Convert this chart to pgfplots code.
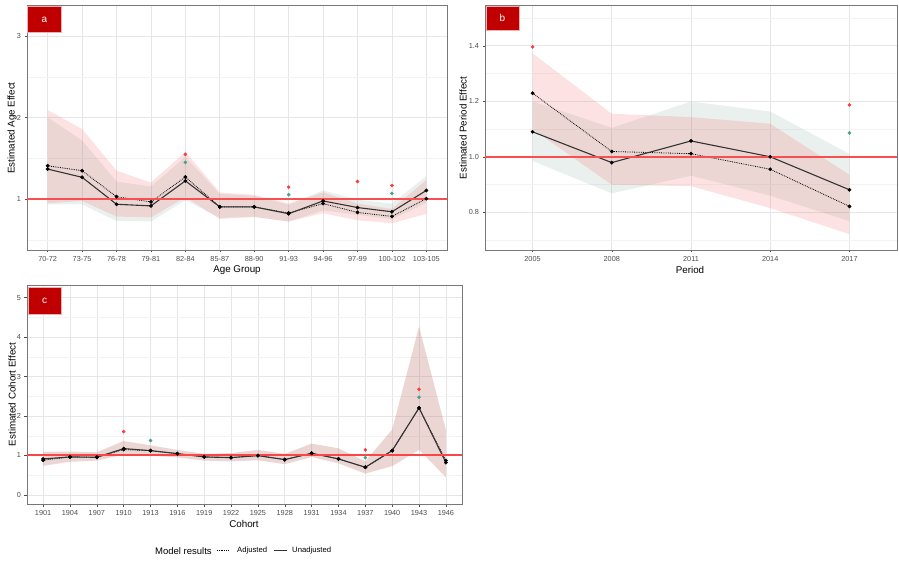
\documentclass[border=0pt]{standalone}
\usepackage{fontspec}
\setmainfont{Liberation Sans}
\usepackage{pgfplots}
\pgfplotsset{compat=1.18}
\usepackage{pgfplotstable}
\usepgfplotslibrary{fillbetween}

\definecolor{ribA}{RGB}{240,110,110}
\definecolor{ribU}{RGB}{108,155,142}
\definecolor{refred}{RGB}{248,80,80}
\definecolor{sigred}{RGB}{255,60,60}
\definecolor{siggreen}{RGB}{70,165,135}
\definecolor{boxred}{RGB}{192,0,0}
\definecolor{gridmaj}{RGB}{230,230,230}
\definecolor{gridmin}{RGB}{243,243,243}
\definecolor{framec}{RGB}{120,120,120}
\definecolor{ticklab}{RGB}{77,77,77}

\pgfplotsset{
 panel/.style={
  scale only axis, anchor=south west,
  axis line style={framec, line width=0.9pt},
  tick pos=left, tick align=outside,
  major tick length=2.5pt, minor tick length=0pt,
  every tick/.style={ticklab, line width=0.5pt},
  grid=both,
  major grid style={gridmaj, line width=0.6pt},
  minor grid style={gridmin, line width=0.4pt},
  tick label style={font=\fontsize{7.3}{8}\selectfont, text=ticklab},
  /pgf/number format/assume math mode=true,
 },
 solidl/.style={line width=1.1pt, color=black!80, no marks, solid, forget plot},
 dotl/.style={line width=0.8pt, densely dotted, color=black, no marks, forget plot},
 pts/.style={only marks, mark=*, mark size=1.7pt, color=black, mark options={solid, fill=black, draw=black}, forget plot},
 sigR/.style={only marks, mark=*, mark size=1.6pt, color=sigred, mark options={fill=sigred, draw=sigred}, forget plot},
 sigG/.style={only marks, mark=*, mark size=1.6pt, color=siggreen, mark options={fill=siggreen, draw=siggreen}, forget plot},
 refl/.style={draw=refred, line width=1.5pt, no marks, solid, forget plot},
 hid/.style={draw=none, forget plot},
}

% Panel a: age groups (index 0..11)
\pgfplotstableread{
x adj alo ahi un ulo uhi
0 1.407 0.947 2.090 1.367 0.934 2.000
1 1.347 0.976 1.859 1.266 0.933 1.718
2 1.028 0.785 1.347 0.935 0.730 1.214
3 0.964 0.773 1.202 0.915 0.726 1.153
4 1.270 1.023 1.577 1.222 0.985 1.516
5 0.903 0.755 1.080 0.903 0.769 1.060
6 0.903 0.777 1.050 0.903 0.784 1.040
7 0.827 0.725 0.944 0.819 0.721 0.930
8 0.944 0.825 1.080 0.976 0.862 1.105
9 0.835 0.739 0.944 0.895 0.806 0.990
10 0.786 0.703 0.879 0.843 0.753 0.944
11 1.004 0.817 1.234 1.105 0.952 1.282
}\tabA

% Panel b: periods
\pgfplotstableread{
x adj alo ahi un ulo uhi
2005 1.229 1.100 1.373 1.090 0.985 1.200
2008 1.019 0.899 1.155 0.979 0.868 1.104
2011 1.011 0.894 1.143 1.057 0.932 1.199
2014 0.955 0.815 1.119 1.000 0.860 1.163
2017 0.821 0.721 0.935 0.881 0.768 1.010
}\tabB

% Panel c: cohorts (index 0..15)
\pgfplotstableread{
x adj alo ahi un ulo uhi
0 0.880 0.730 1.090 0.912 0.745 1.100
1 0.963 0.840 1.100 0.963 0.845 1.100
2 0.954 0.870 1.080 0.954 0.870 1.080
3 1.150 1.020 1.370 1.174 1.030 1.360
4 1.120 1.000 1.260 1.123 1.000 1.250
5 1.047 0.950 1.140 1.047 0.950 1.140
6 0.963 0.870 1.040 0.963 0.870 1.040
7 0.946 0.850 1.060 0.946 0.850 1.060
8 0.997 0.880 1.140 0.997 0.880 1.140
9 0.895 0.780 1.040 0.895 0.780 1.040
10 1.056 0.960 1.300 1.056 0.960 1.300
11 0.912 0.800 1.180 0.912 0.800 1.180
12 0.701 0.540 0.850 0.701 0.545 0.850
13 1.123 0.730 1.660 1.123 0.730 1.650
14 2.204 1.140 4.270 2.204 1.150 4.250
15 0.870 0.450 1.650 0.819 0.450 1.640
}\tabC

\begin{document}
\begin{tikzpicture}
% ---------------- Panel a
\begin{axis}[panel, at={(27pt,310pt)}, width=420pt, height=245pt,
  xmin=-0.6, xmax=11.6, ymin=0.374, ymax=3.38,
  xtick={0,...,11},
  xticklabels={70-72,73-75,76-78,79-81,82-84,85-87,88-90,91-93,94-96,97-99,100-102,103-105},
  ytick={1,2,3}, minor ytick={0.5,1.5,2.5}]
 \addplot[hid, name path=aH] table[x=x,y=ahi]{\tabA};
 \addplot[hid, name path=aL] table[x=x,y=alo]{\tabA};
 \addplot[hid, name path=uH] table[x=x,y=uhi]{\tabA};
 \addplot[hid, name path=uL] table[x=x,y=ulo]{\tabA};
 \addplot[fill=ribU, fill opacity=0.15, draw=none, forget plot] fill between[of=uH and uL];
 \addplot[fill=ribA, fill opacity=0.2, draw=none, forget plot] fill between[of=aH and aL];
 \addplot[dotl] table[x=x,y=adj]{\tabA};
 \addplot[solidl] table[x=x,y=un]{\tabA};
 \addplot[refl] coordinates {(-0.6,1) (11.6,1)};
 \addplot[pts] table[x=x,y=adj]{\tabA};
 \addplot[pts] table[x=x,y=un]{\tabA};
 \addplot[sigR] coordinates {(4,1.548) (7,1.145) (9,1.214) (10,1.165)};
 \addplot[sigG] coordinates {(4,1.448) (7,1.052) (10,1.069)};
\end{axis}
% ---------------- Panel b
\begin{axis}[panel, at={(485pt,310pt)}, width=412pt, height=245pt,
  xmin=2003.2, xmax=2018.8, ymin=0.664, ymax=1.547,
  xtick={2005,2008,2011,2014,2017},
  xticklabels={2005,2008,2011,2014,2017},
  ytick={0.8,1.0,1.2,1.4}, yticklabels={0.8,1.0,1.2,1.4},
  minor ytick={0.7,0.9,1.1,1.3,1.5}]
 \addplot[hid, name path=bH] table[x=x,y=ahi]{\tabB};
 \addplot[hid, name path=bL] table[x=x,y=alo]{\tabB};
 \addplot[hid, name path=bUH] table[x=x,y=uhi]{\tabB};
 \addplot[hid, name path=bUL] table[x=x,y=ulo]{\tabB};
 \addplot[fill=ribU, fill opacity=0.15, draw=none, forget plot] fill between[of=bUH and bUL];
 \addplot[fill=ribA, fill opacity=0.2, draw=none, forget plot] fill between[of=bH and bL];
 \addplot[dotl] table[x=x,y=adj]{\tabB};
 \addplot[solidl] table[x=x,y=un]{\tabB};
 \addplot[refl] coordinates {(2003.2,1) (2018.8,1)};
 \addplot[pts] table[x=x,y=adj]{\tabB};
 \addplot[pts] table[x=x,y=un]{\tabB};
 \addplot[sigR] coordinates {(2005,1.396) (2017,1.187)};
 \addplot[sigG] coordinates {(2017,1.086)};
\end{axis}
% ---------------- Panel c
\begin{axis}[panel, at={(27pt,56pt)}, width=435pt, height=219pt,
  xmin=-0.6, xmax=15.6, ymin=-0.23, ymax=5.32,
  xtick={0,...,15},
  xticklabels={1901,1904,1907,1910,1913,1916,1919,1922,1925,1928,1931,1934,1937,1940,1943,1946},
  ytick={0,1,2,3,4,5}, minor ytick={0.5,1.5,2.5,3.5,4.5}]
 \addplot[hid, name path=cH] table[x=x,y=ahi]{\tabC};
 \addplot[hid, name path=cL] table[x=x,y=alo]{\tabC};
 \addplot[hid, name path=cUH] table[x=x,y=uhi]{\tabC};
 \addplot[hid, name path=cUL] table[x=x,y=ulo]{\tabC};
 \addplot[fill=ribU, fill opacity=0.15, draw=none, forget plot] fill between[of=cUH and cUL];
 \addplot[fill=ribA, fill opacity=0.2, draw=none, forget plot] fill between[of=cH and cL];
 \addplot[dotl] table[x=x,y=adj]{\tabC};
 \addplot[solidl] table[x=x,y=un]{\tabC};
 \addplot[pts] table[x=x,y=adj]{\tabC};
 \addplot[pts] table[x=x,y=un]{\tabC};
 \addplot[sigR] coordinates {(3,1.605) (12,1.14) (14,2.677)};
 \addplot[sigG] coordinates {(4,1.377) (12,0.946) (14,2.475)};
 \addplot[draw={rgb,255:red,250;green,70;blue,70}, line width=1.7pt, forget plot] coordinates {(-0.6,1.005) (15.6,1.005)};
\end{axis}
% ---------------- titles
\begin{scope}[font=\fontsize{9.8}{11}\selectfont]
 \node at (237pt,290pt) {Age Group};
 \node at (690pt,290pt) {Period};
 \node at (244pt,36pt) {Cohort};
 \node[rotate=90] at (12pt,432pt) {Estimated Age Effect};
 \node[rotate=90] at (463pt,432pt) {Estimated Period Effect};
 \node[rotate=90] at (12pt,165.5pt) {Estimated Cohort Effect};
\end{scope}
% panel tags
\fill[boxred, draw=white!70!boxred, line width=0.5pt] (27.5pt,527.5pt) rectangle (61.5pt,553.5pt);
\node[white, font=\fontsize{10}{11}\selectfont] at (44.5pt,540.5pt) {a};
\fill[boxred, draw=white!70!boxred, line width=0.5pt] (486pt,529.5pt) rectangle (519pt,554pt);
\node[white, font=\fontsize{10}{11}\selectfont] at (502.5pt,541.8pt) {b};
\fill[boxred, draw=white!70!boxred, line width=0.5pt] (28.3pt,246pt) rectangle (61pt,272.7pt);
\node[white, font=\fontsize{10}{11}\selectfont] at (44.6pt,259.3pt) {c};
% legend
\node[anchor=west, font=\fontsize{9.5}{10}\selectfont, inner sep=0pt] at (155pt,9.3pt) {Model results};
\draw[black, line width=0.8pt, densely dotted] (217pt,9.3pt) -- (229pt,9.3pt);
\node[anchor=west, font=\fontsize{7.7}{9}\selectfont, inner sep=0pt] at (237pt,9.3pt) {Adjusted};
\draw[black!80, line width=1.1pt] (274pt,9.3pt) -- (287pt,9.3pt);
\node[anchor=west, font=\fontsize{7.7}{9}\selectfont, inner sep=0pt] at (292pt,9.3pt) {Unadjusted};
\pgfresetboundingbox
\path[use as bounding box] (0pt,0pt) rectangle (899pt,560pt);
\end{tikzpicture}
\end{document}
